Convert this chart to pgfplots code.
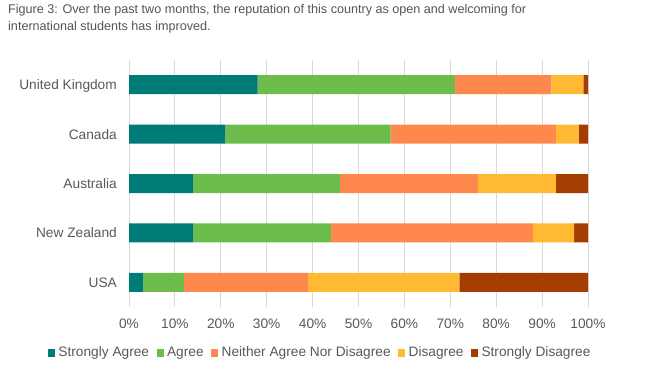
\documentclass[border=0pt]{standalone}
\usepackage{pgfplots}
\pgfplotsset{compat=1.18}
\usepackage{fontspec}
\setmainfont{Liberation Sans}
\definecolor{cSA}{HTML}{007C78}
\definecolor{cA}{HTML}{6CBD4C}
\definecolor{cN}{HTML}{FF894D}
\definecolor{cD}{HTML}{FFB933}
\definecolor{cSD}{HTML}{A33D00}
\definecolor{gridgray}{HTML}{D9D9D9}
\definecolor{labelgray}{HTML}{595959}
\definecolor{titlegray}{HTML}{555555}
\begin{document}
\begin{tikzpicture}
\useasboundingbox[fill=white] (0,0) rectangle (667bp,-370bp);
\node[anchor=base west, inner sep=0, font=\fontsize{12.6bp}{14bp}\selectfont, text=titlegray] at (8bp,-13.5bp) {Figure 3: Over the past two months, the reputation of this country as open and welcoming for};
\node[anchor=base west, inner sep=0, font=\fontsize{12.6bp}{14bp}\selectfont, text=titlegray] at (8bp,-30.5bp) {international students has improved.};
\begin{axis}[
  at={(129bp,-307bp)}, anchor=south west,
  scale only axis, width=459bp, height=247bp,
  xbar stacked, bar width=19bp,
  xmin=0, xmax=100, ymin=0.5, ymax=5.5,
  ytick={1,2,3,4,5},
  yticklabels={USA,New Zealand,Australia,Canada,United Kingdom},
  xtick={0,10,...,100},
  /pgf/number format/assume math mode=true,
  xticklabel={\pgfmathprintnumber{\tick}\%},
  xmajorgrids, ymajorgrids=false,
  grid style={draw=gridgray, line width=0.9bp},
  axis line style={draw=none},
  major tick length=0pt,
  tick style={draw=none},
  tick label style={font=\fontsize{13.7bp}{16bp}\selectfont, text=labelgray},
  xticklabel style={anchor=north, inner sep=0pt, yshift=-12bp},
  yticklabel style={anchor=base east, inner sep=0pt, xshift=-12bp, yshift=-4.9bp},
  legend columns=5,
  legend style={draw=none, fill=none, at={(0.416,0)}, anchor=center, yshift=-45.5bp,
    font=\fontsize{13.7bp}{16bp}\selectfont, text=labelgray,
    inner sep=0pt,
    nodes={inner sep=1.5bp},
    /tikz/every odd column/.append style={column sep=2bp},
    /tikz/every even column/.append style={column sep=6bp}},
  legend image code/.code={\fill[#1] (0bp,-4bp) rectangle (7bp,4bp);},
]
\addplot[fill=cSA, draw=none] coordinates {(28,5) (21,4) (14,3) (14,2) (3,1)};
\addplot[fill=cA, draw=none] coordinates {(43,5) (36,4) (32,3) (30,2) (9,1)};
\addplot[fill=cN, draw=none] coordinates {(21,5) (36,4) (30,3) (44,2) (27,1)};
\addplot[fill=cD, draw=none] coordinates {(7,5) (5,4) (17,3) (9,2) (33,1)};
\addplot[fill=cSD, draw=none] coordinates {(1,5) (2,4) (7,3) (3,2) (28,1)};
\legend{Strongly Agree,Agree,Neither Agree Nor Disagree,Disagree,Strongly Disagree}
\end{axis}
\end{tikzpicture}
\end{document}
